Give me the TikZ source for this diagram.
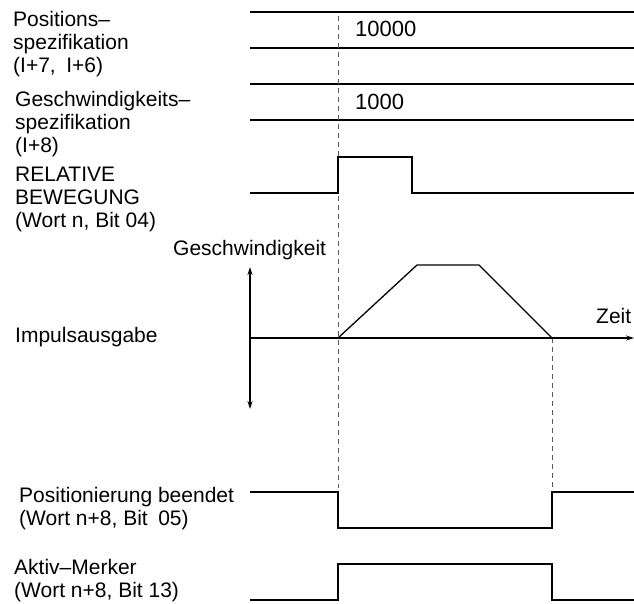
\documentclass[tikz,border=0pt]{standalone}
\usepackage{fontspec}
\setmainfont{Liberation Sans}
\usetikzlibrary{arrows.meta}
\tikzset{
  lbl/.style={anchor=base west, inner sep=0pt, align=left, font=\fontsize{21}{23}\selectfont},
  val/.style={anchor=base west, inner sep=0pt, font=\fontsize{22}{23}\selectfont},
  sig/.style={line width=1.3pt, line join=miter},
  guide/.style={line width=0.7pt, gray!70!black, dash pattern=on 5pt off 4pt},
  axis/.style={line width=1.1pt, -{Stealth[length=8pt,width=5pt]}},
  dblaxis/.style={line width=1.1pt, {Stealth[length=8pt,width=5pt]}-{Stealth[length=8pt,width=5pt]}},
}
\begin{document}
\begin{tikzpicture}[x=1pt,y=-1pt]
\useasboundingbox (0,0) rectangle (634,604);
% labels (base anchor = baseline of the last line)
\node[lbl] (tpos) at (13,73) {Positions–\\spezifikation\\(I+7,\enspace I+6)};
\node[lbl] (tgesch) at (15,153) {Geschwindigkeits–\\spezifikation\\(I+8)};
\node[lbl] (trel) at (15,227) {RELATIVE\\BEWEGUNG\\(Wort n, Bit 04)};
\node[lbl] (tv) at (173,255) {Geschwindigkeit};
\node[lbl] (timp) at (15,342) {Impulsausgabe};
\node[lbl] (tzeit) at (596,323) {Zeit};
\node[lbl] (tposend) at (19,525) {Positionierung beendet\\(Wort n+8, Bit\enspace 05)};
\node[lbl] (takt) at (14,597) {Aktiv–Merker\\(Wort n+8, Bit 13)};
\node[val] (v1) at (355,37) {10000};
\node[val] (v2) at (355,110) {1000};
% data bus lines
\foreach \yy/\nm in {12/a,48/b,84/c,120/d}{
  \coordinate (L\nm) at (250,\yy);
  \coordinate (R\nm) at (634,\yy);
  \draw[sig] (L\nm) -- (R\nm);
}
% key coordinates
\coordinate (t1top) at (338,16);
\coordinate (t1bot) at (338,488);
\coordinate (t2top) at (552,338);
\coordinate (t2bot) at (552,488);
% guides
\draw[guide] (t1top) -- (t1bot);
\draw[guide] (t2top) -- (t2bot);
% RELATIVE BEWEGUNG pulse
\coordinate (r0) at (250,193);
\coordinate (r1) at (338,193);
\coordinate (r2) at (338,157);
\coordinate (r3) at (412,157);
\coordinate (r4) at (412,193);
\coordinate (r5) at (634,193);
\draw[sig] (r0) -- (r1) -- (r2) -- (r3) -- (r4) -- (r5);
% speed profile
\coordinate (o) at (250,338);
\coordinate (xend) at (634,338);
\coordinate (ytop) at (250,267);
\coordinate (ybot) at (250,409);
\draw[dblaxis] (ytop) -- (ybot);
\draw[axis] (o) -- (xend);
\coordinate (p0) at (338,338);
\coordinate (p1) at (417,265);
\coordinate (p2) at (479,265);
\coordinate (p3) at (552,338);
\draw[sig] (p0) -- (p1) -- (p2) -- (p3);
% Positionierung beendet
\coordinate (q0) at (250,492);
\coordinate (q1) at (338,492);
\coordinate (q2) at (338,528);
\coordinate (q3) at (552,528);
\coordinate (q4) at (552,492);
\coordinate (q5) at (634,492);
\draw[sig] (q0) -- (q1) -- (q2) -- (q3) -- (q4) -- (q5);
% Aktiv-Merker
\coordinate (a0) at (250,600);
\coordinate (a1) at (338,600);
\coordinate (a2) at (338,564);
\coordinate (a3) at (552,564);
\coordinate (a4) at (552,600);
\coordinate (a5) at (634,600);
\draw[sig] (a0) -- (a1) -- (a2) -- (a3) -- (a4) -- (a5);
\end{tikzpicture}
\end{document}
